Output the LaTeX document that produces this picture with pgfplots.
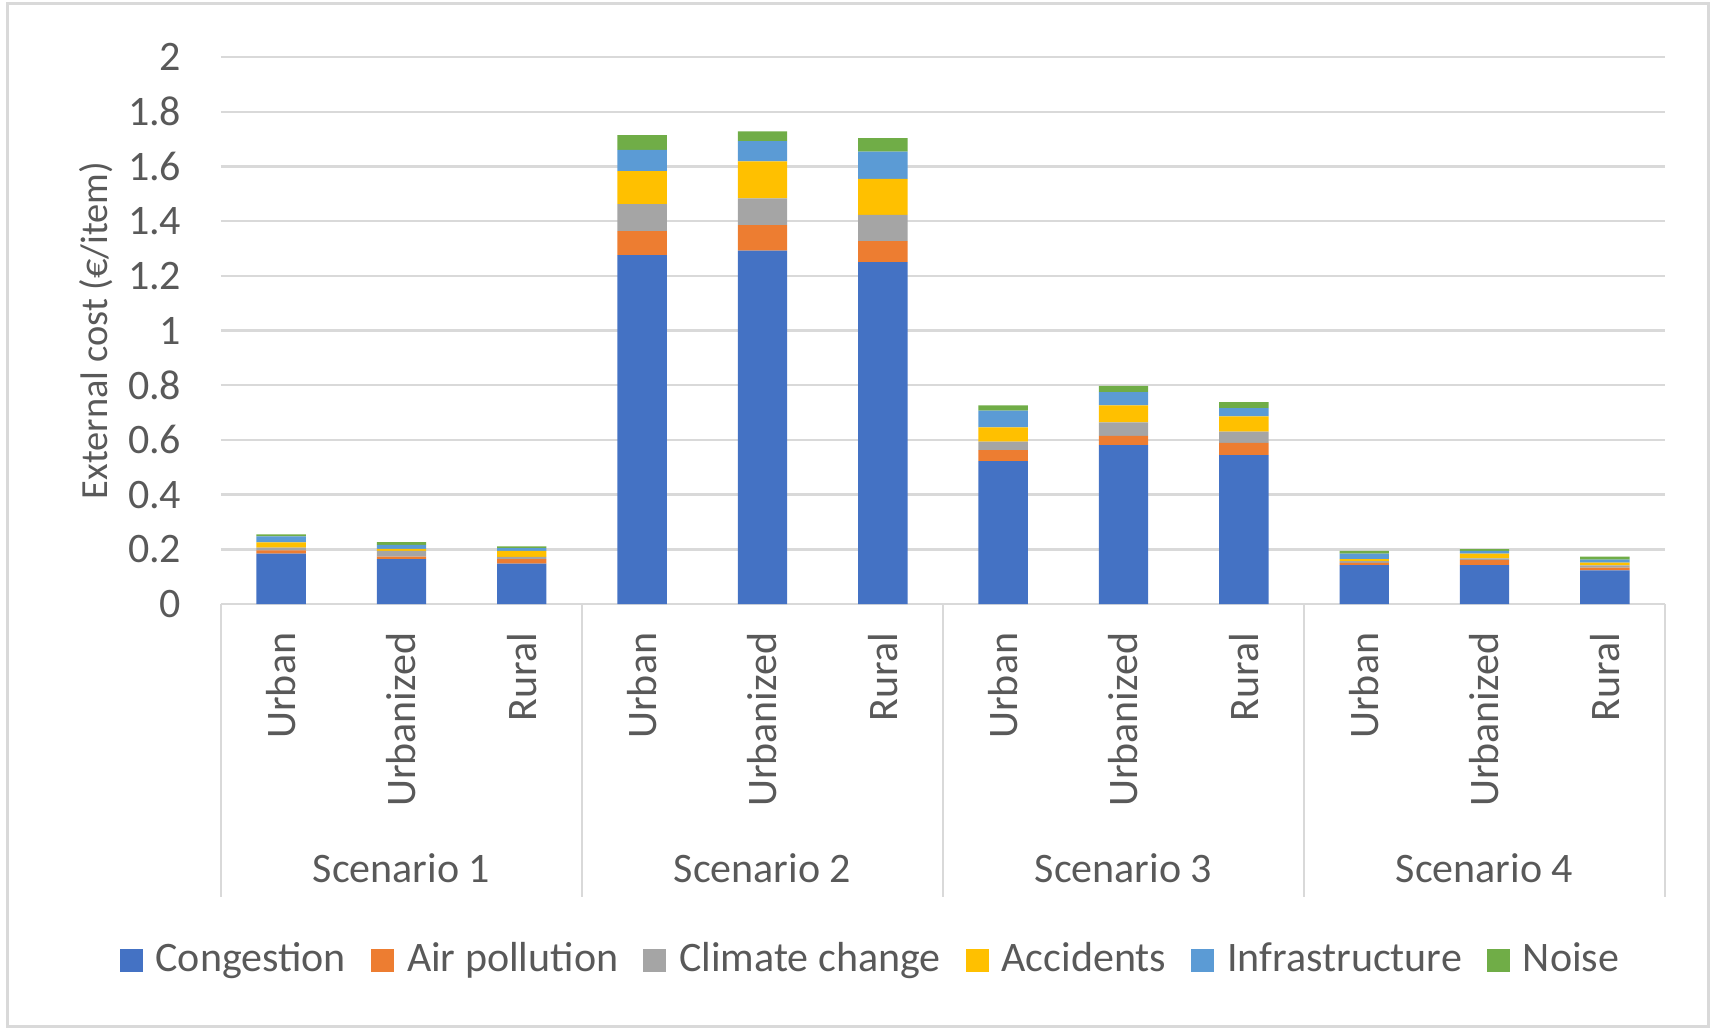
\documentclass[border=0pt]{standalone}
\usepackage{fontspec}
\setmainfont{Carlito}
\usepackage{pgfplots}
\usepackage{pgfplotstable}
\pgfplotsset{compat=1.18}
\definecolor{cong}{HTML}{4472C4}
\definecolor{air}{HTML}{ED7D31}
\definecolor{clim}{HTML}{A5A5A5}
\definecolor{acc}{HTML}{FFC000}
\definecolor{infra}{HTML}{5B9BD5}
\definecolor{noise}{HTML}{70AD47}
\definecolor{txt}{HTML}{595959}
\definecolor{gridc}{HTML}{D9D9D9}
\newcommand{\cf}{\fontsize{10.5}{12.6}\selectfont}
\newcommand{\lf}{\fontsize{9.6}{11.5}\selectfont}

\pgfplotstableread{
x cong air clim acc infra noise
0 0.184 0.012 0.010 0.019 0.022 0.008
1 0.164 0.009 0.021 0.008 0.014 0.010
2 0.148 0.016 0.008 0.022 0.010 0.007
3 1.276 0.087 0.099 0.121 0.077 0.054
4 1.292 0.093 0.098 0.135 0.074 0.036
5 1.250 0.077 0.096 0.131 0.100 0.049
6 0.522 0.041 0.031 0.052 0.061 0.019
7 0.581 0.034 0.049 0.062 0.049 0.023
8 0.544 0.045 0.041 0.056 0.030 0.022
9 0.142 0.008 0.007 0.007 0.020 0.010
10 0.142 0.018 0.007 0.017 0.010 0.007
11 0.123 0.010 0.008 0.010 0.011 0.011
}\data

\begin{document}
\begin{tikzpicture}
\useasboundingbox (-55.25pt,-106.25pt) rectangle (373.75pt,151pt);
\draw[gridc, line width=0.75pt] (-53.25pt,-105.5pt) rectangle (371.75pt,150pt);
\begin{axis}[
  scale only axis, width=361pt, height=136.75pt,
  xmin=-0.5, xmax=11.5, ymin=0, ymax=2,
  ybar stacked, bar width=0.41,
  ytick={0,0.2,0.4,0.6,0.8,1,1.2,1.4,1.6,1.8,2},
  xtick={0,...,11},
  xticklabels={Urban,Urbanized,Rural,Urban,Urbanized,Rural,Urban,Urbanized,Rural,Urban,Urbanized,Rural},
  major tick length=0pt,
  axis line style={draw=none},
  ymajorgrids, grid style={gridc, line width=0.6pt},
  tick label style={font=\cf, text=txt},
  /pgf/number format/assume math mode=true,
  yticklabel style={inner sep=0pt, xshift=-9.75pt},
  xticklabel style={yshift=-7pt, rotate=90, anchor=east, inner sep=0pt},
  every axis y label/.style={at={(axis description cs:0,0.5)}, xshift=-31.25pt, rotate=90, anchor=center, font=\lf, text=txt},
  ylabel={External cost (€/item)},
  clip=false,
  legend columns=6,
  legend style={draw=none, fill=none, at={(axis description cs:0.449,-0.651)}, anchor=center,
    font=\cf, text=txt, inner sep=0pt, outer sep=0pt,
    nodes={inner sep=0pt},
    /tikz/every odd column/.append style={column sep=3.25pt},
    /tikz/every even column/.append style={column sep=6.25pt}},
  legend image code/.code={\fill[#1] (0pt,-2.875pt) rectangle (5.75pt,2.875pt);},
]
\addplot[fill=cong, draw=none] table[x=x, y=cong]{\data};
\addplot[fill=air, draw=none] table[x=x, y=air]{\data};
\addplot[fill=clim, draw=none] table[x=x, y=clim]{\data};
\addplot[fill=acc, draw=none] table[x=x, y=acc]{\data};
\addplot[fill=infra, draw=none] table[x=x, y=infra]{\data};
\addplot[fill=noise, draw=none] table[x=x, y=noise]{\data};
\legend{Congestion, Air pollution, Climate change, Accidents, Infrastructure, Noise}
\pgfplotsinvokeforeach{-0.5,2.5,5.5,8.5,11.5}{
  \draw[gridc, line width=0.6pt] (axis cs:#1,0) -- ++(0pt,-73.25pt);
}
\node[font=\cf, text=txt] at ([yshift=-66pt]axis cs:1,0) {Scenario 1};
\node[font=\cf, text=txt] at ([yshift=-66pt]axis cs:4,0) {Scenario 2};
\node[font=\cf, text=txt] at ([yshift=-66pt]axis cs:7,0) {Scenario 3};
\node[font=\cf, text=txt] at ([yshift=-66pt]axis cs:10,0) {Scenario 4};
\end{axis}
\end{tikzpicture}
\end{document}
